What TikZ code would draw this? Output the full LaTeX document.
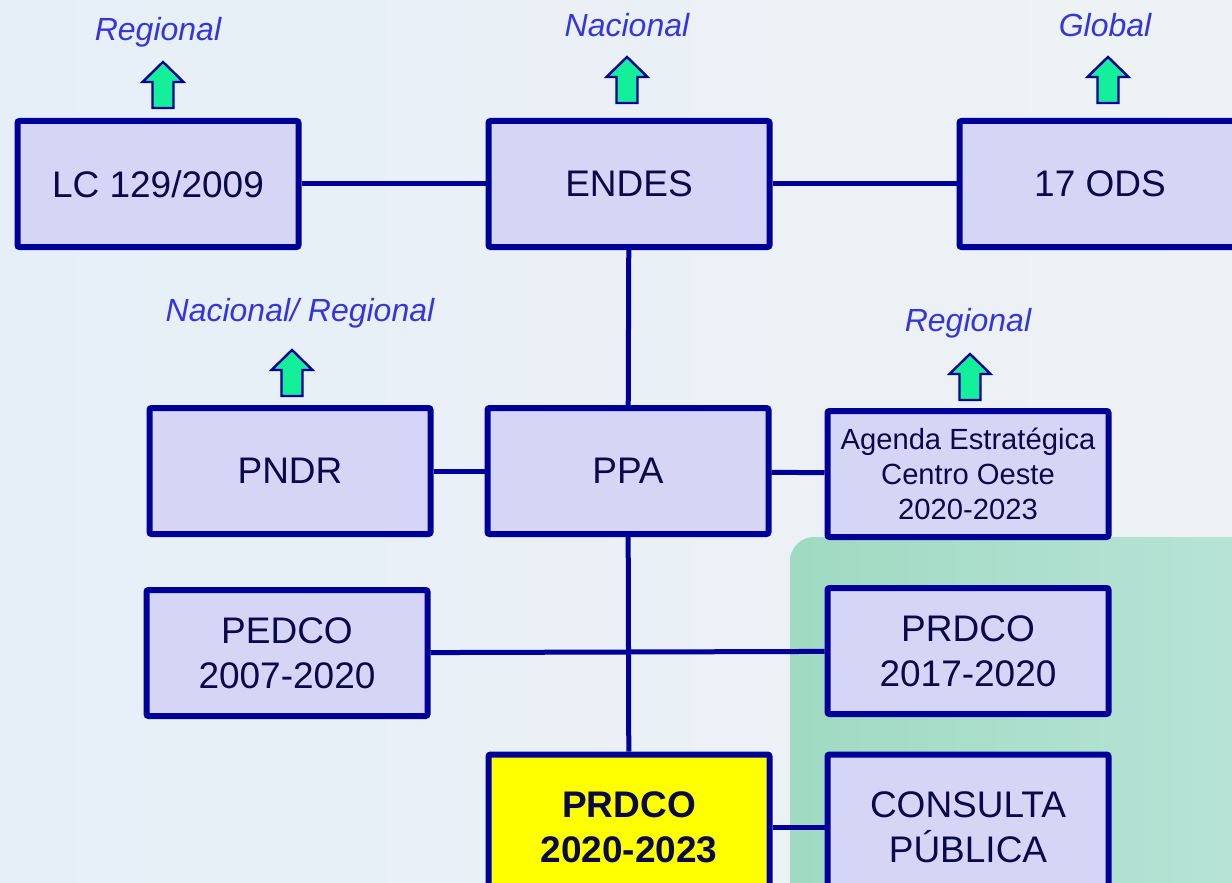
\documentclass[tikz,border=0pt]{standalone}
\usepackage{fontspec}
\setmainfont{Liberation Sans}
\usepackage{tikz}
\usepackage{xcolor}
\definecolor{boxblue}{HTML}{000099}
\definecolor{boxfill}{HTML}{D5D5F6}
\definecolor{txtnavy}{HTML}{0A0A4A}
\definecolor{lblblue}{HTML}{3535DD}
\definecolor{arrgreen}{HTML}{14F09A}
\definecolor{bgleft}{HTML}{E6EFF8}
\definecolor{bgright}{HTML}{EEF2F4}
\definecolor{greenleft}{HTML}{A0DAC2}
\definecolor{greenright}{HTML}{B8E4D8}
\definecolor{hiyellow}{HTML}{FFFF00}

\begin{document}
\begin{tikzpicture}[x=0.5pt, y=-0.5pt,
    box/.style={draw=boxblue, fill=boxfill, line width=3pt, rounded corners=1pt,
        minimum width=140.5pt, minimum height=63pt, inner sep=0pt, align=center,
        text=txtnavy, font=\fontsize{18.5}{22.5}\selectfont},
    link/.style={draw=boxblue, line width=2.5pt},
    level/.style={text=lblblue, font=\fontsize{16}{19}\selectfont\itshape},
    uparrow/.pic={\draw[draw=boxblue, fill=arrgreen, line width=1.2pt]
        (-10.5,0) -- (-10.5,-26) -- (-20.5,-26) -- (0,-46) -- (20.5,-26) -- (10.5,-26) -- (10.5,0) -- cycle;}]

        \useasboundingbox (0,0) rectangle (1232,883);
        \shade[left color=bgleft, right color=bgright] (0,0) rectangle (1232,883);
        \shade[left color=greenleft, right color=greenright, rounded corners=12pt] (790,537) rectangle (1260,920);

        % top row
        \node[box] (lc) at (158,184) {LC 129/2009};
        \node[box] (endes) at (629,184) {ENDES};
        \node[box] (ods) at (1100,184) {17 ODS};

        % middle row
        \node[box] (pndr) at (290,471) {PNDR};
        \node[box] (ppa) at (628,471) {PPA};
        \node[box, font=\fontsize{14.6}{17.5}\selectfont] (agenda) at (968,474) {Agenda Estrat\'egica\\Centro Oeste\\2020-2023};

        \node[box] (pedco) at (287,653) {PEDCO\\2007-2020};
        \node[box] (prdco17) at (968,651) {PRDCO\\2017-2020};

        % bottom row
        \node[box, fill=hiyellow, minimum height=72.5pt, font=\fontsize{18.5}{22.5}\selectfont\bfseries] (prdco20) at (629,827) {PRDCO\\2020-2023};
        \node[box, minimum height=72.5pt] (consulta) at (968,827) {CONSULTA\\P\'UBLICA};

        % levels
        \node[level] (lvllc) at (158,32) {Regional};
        \node[level] (lvlendes) at (627,25) {Nacional};
        \node[level] (lvlods) at (1105,25) {Global};
        \node[level] (lvlpndr) at (300,313) {Nacional/ Regional};
        \node[level] (lvlagenda) at (968,323) {Regional};

        \pic at (163,108) {uparrow};
        \pic at (627,103) {uparrow};
        \pic at (1108,103) {uparrow};
        \pic at (292,396) {uparrow};
        \pic at (970,400) {uparrow};

        \draw[link] (lc) -- (endes);
        \draw[link] (endes) -- (ods);
        \draw[link] (endes) -- (ppa);
        \draw[link] (pndr) -- (ppa);
        \draw[link] (ppa) -- (agenda);
        \draw[link] (ppa) -- (prdco20);
        \draw[link] (pedco) -- (prdco17);
        \draw[link] (prdco20) -- (consulta);

    \end{tikzpicture}
\end{document}
